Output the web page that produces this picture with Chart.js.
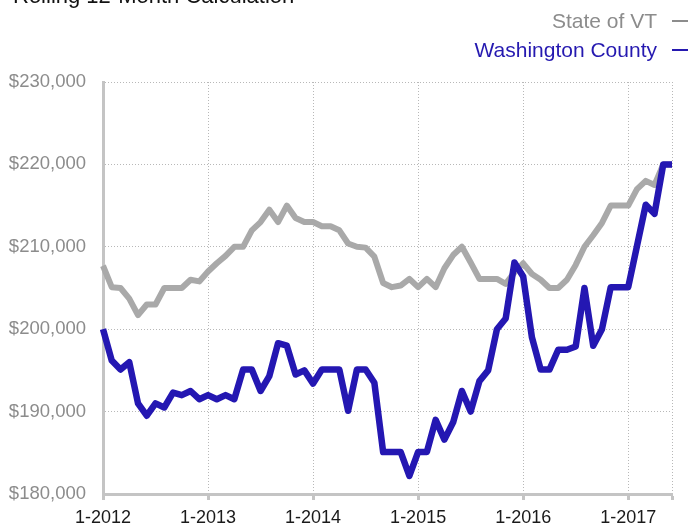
<!DOCTYPE html>
<html>
<head>
<meta charset="utf-8">
<script src="https://cdn.jsdelivr.net/npm/chart.js@4"></script>
<style>
    body { margin: 0; background: #fff; font-family: "Liberation Sans", Arial, sans-serif; }
    #wrap { position: relative; width: 691px; height: 525px; overflow: hidden; }
    #title { position: absolute; left: 13px; top: -15px; font-size: 22px; line-height: 22px; color: #111; white-space: nowrap; }
    .leg { position: absolute; right: 3px; font-size: 21px; line-height: 21px; white-space: nowrap; }
    .leg span { display: inline-block; width: 16px; height: 2px; margin-left: 15px; vertical-align: 6px; }
    #leg-vt { top: 10px; color: #8c8c8c; }
    #leg-vt span { background: #8c8c8c; }
    #leg-wc { top: 39px; color: #2519b0; }
    #leg-wc span { background: #2519b0; }
</style>
</head>
<body>
<div id="wrap">
    <canvas id="chart" width="691" height="525"></canvas>
    <div id="title">Rolling 12-Month Calculation</div>
    <div class="leg" id="leg-vt">State of VT<span></span></div>
    <div class="leg" id="leg-wc">Washington County<span></span></div>
</div>
<script>
// months 1-2012 .. 6-2017
const months = [];
for (let y = 2012; y <= 2017; y++) {
    for (let m = 1; m <= 12; m++) {
        if (y === 2017 && m > 6) break;
        months.push(m + '-' + y);
    }
}

const stateVT = [
    207700, 205100, 205000, 203700, 201700, 203000, 203000, 205000, 205000, 205000, 206000, 205800,
    207000, 208000, 208900, 210000, 210000, 212000, 213000, 214500, 213000, 215000, 213500, 213000,
    213000, 212500, 212500, 212000, 210400, 210000, 209900, 208800, 205600, 205100, 205300, 206100,
    205100, 206100, 205100, 207400, 209000, 210000, 208100, 206100, 206100, 206100, 205500, 206900,
    208000, 206700, 206000, 205000, 205000, 206000, 207800, 210000, 211400, 212900, 215000, 215000,
    215000, 217000, 218000, 217500, 220000, 220000
];

const washington = [
    200000, 196200, 195100, 196000, 191000, 189500, 191000, 190500, 192300, 192000, 192500, 191500,
    192000, 191500, 192000, 191500, 195100, 195100, 192500, 194300, 198300, 198000, 194500, 195000,
    193400, 195100, 195100, 195100, 190100, 195100, 195100, 193500, 185100, 185100, 185100, 182200,
    185100, 185100, 189000, 186600, 188700, 192500, 190000, 193700, 195000, 200000, 201300, 208100,
    206400, 199000, 195100, 195100, 197500, 197500, 197900, 205000, 198000, 200000, 205100, 205100,
    205100, 210100, 215100, 214000, 220000, 220000
];

const yMin = 180000;
const yMax = 230000;
const yStep = 10000;

const gridColor = '#b8b8b8';
const axisColor = '#c4c4c4';
const lastIdx = months.length - 1;

new Chart(document.getElementById('chart'), {
    type: 'line',
    data: {
        labels: months,
        datasets: [
            {
                label: 'State of VT',
                data: stateVT,
                borderColor: '#a9a9a9',
                borderWidth: 6,
                pointRadius: 0,
                tension: 0,
                borderJoinStyle: 'round',
                order: 1
            },
            {
                label: 'Washington County',
                data: washington,
                borderColor: '#2417b2',
                borderWidth: 6.5,
                pointRadius: 0,
                tension: 0,
                borderJoinStyle: 'round',
                order: 0
            }
        ]
    },
    options: {
        responsive: false,
        animation: false,
        layout: { padding: { top: 82, right: 19, left: 0, bottom: 0 } },
        plugins: {
            legend: { display: false },
            title: { display: false },
            tooltip: { enabled: false }
        },
        scales: {
            x: {
                offset: false,
                grid: {
                    color: gridColor,
                    lineWidth: 1,
                    drawTicks: true,
                    tickLength: 6,
                    tickWidth: 3,
                    tickColor: ctx => ctx.index === lastIdx ? 'rgba(0,0,0,0)' : axisColor,
                    tickBorderDash: []
                },
                border: { display: true, color: axisColor, width: 3, dash: [1, 2] },
                ticks: {
                    autoSkip: false,
                    maxRotation: 0,
                    padding: 7,
                    color: '#1a1a1a',
                    font: { family: 'Liberation Sans', size: 18 },
                    callback: function (value, index) {
                        if (index === lastIdx) return '';
                        return index % 12 === 0 ? months[index] : null;
                    }
                },
                afterFit: function (scale) { scale.height = 31; }
            },
            y: {
                min: yMin,
                max: yMax,
                grid: { color: gridColor, lineWidth: 1, drawTicks: false },
                border: { display: true, color: axisColor, width: 3, dash: [1, 2] },
                ticks: {
                    stepSize: yStep,
                    padding: 17,
                    color: '#8c8c8c',
                    font: { family: 'Liberation Sans', size: 18.5 },
                    callback: v => '$' + v.toLocaleString('en-US')
                },
                afterFit: function (scale) { scale.width = 103; }
            }
        }
    }
});
</script>
</body>
</html>
